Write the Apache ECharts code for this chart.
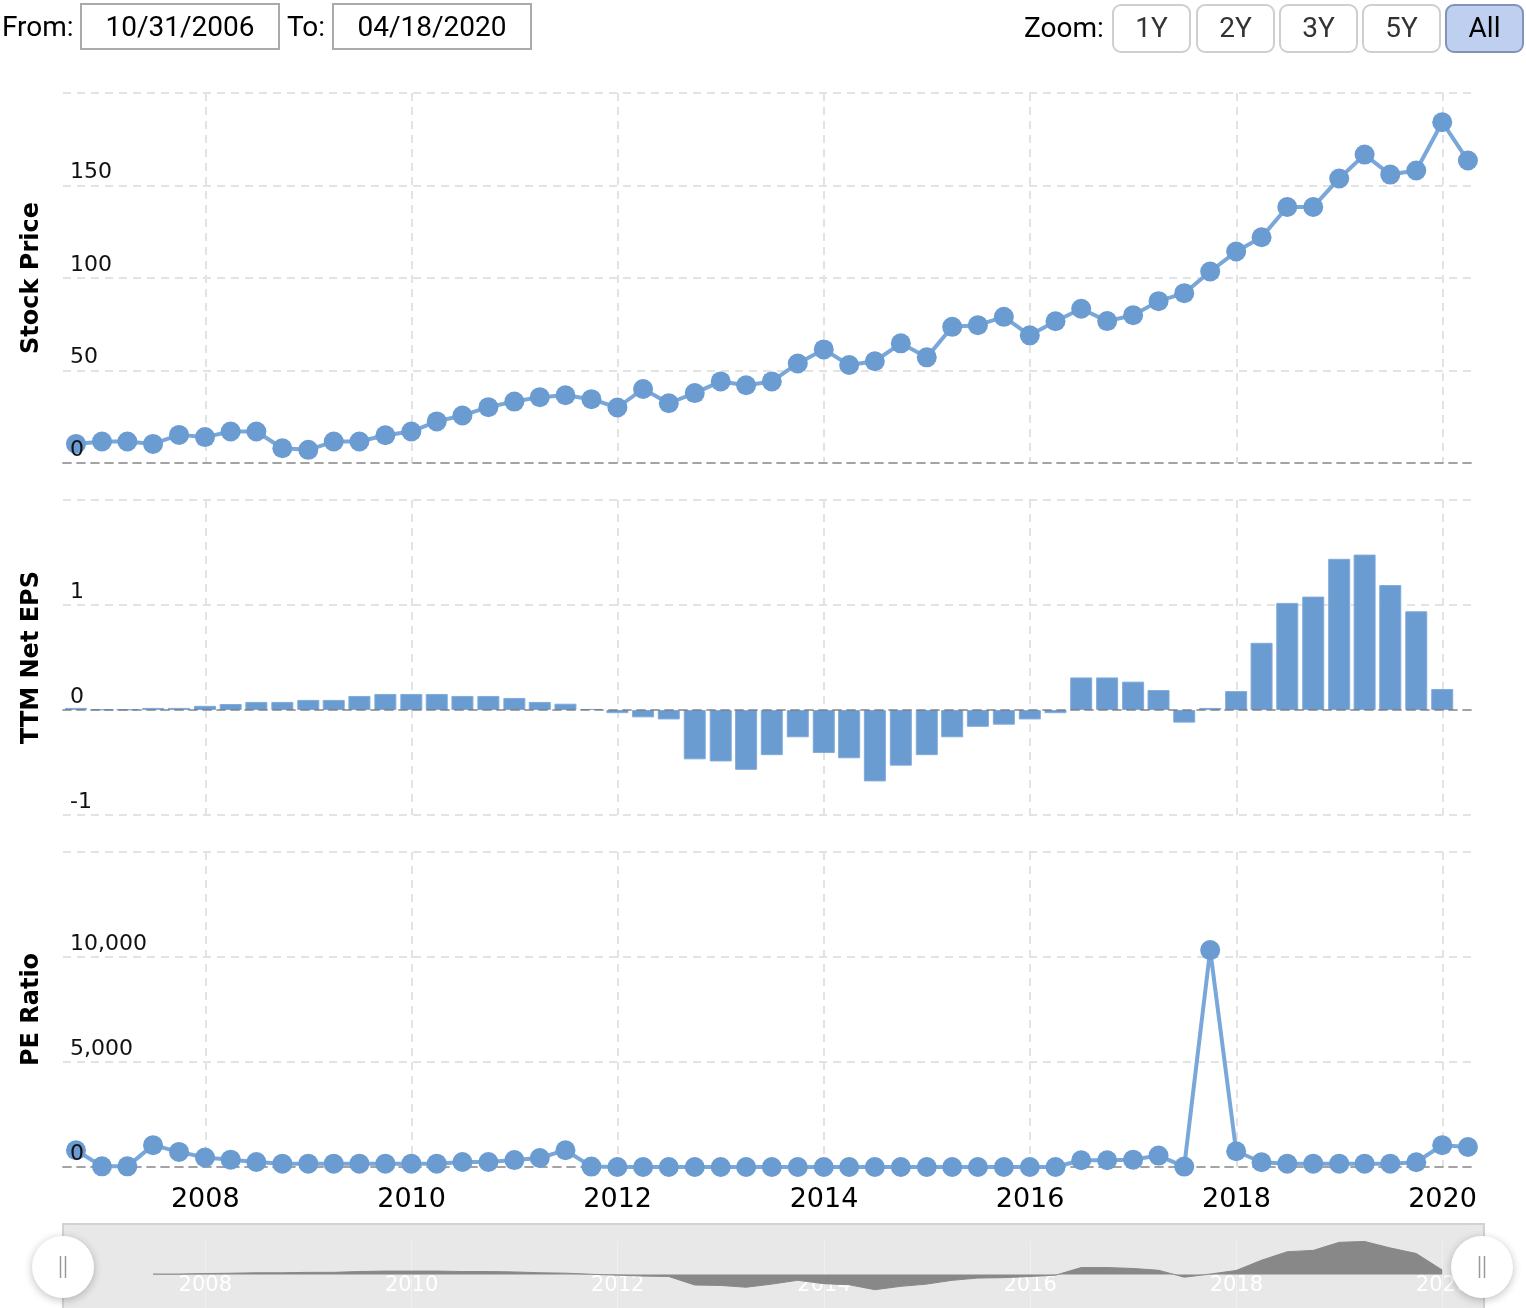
<!DOCTYPE html>
<html>
<head>
<meta charset="utf-8">
<script src="https://cdn.jsdelivr.net/npm/echarts@6/dist/echarts.min.js"></script>
<style>
html,body{margin:0;padding:0;background:#fff;}
#chart{width:1526px;height:1308px;}
</style>
</head>
<body>
<div id="chart"></div>
<script>
// ---------- data ----------
const quarterDates = [
  '2006-09-30','2006-12-31',
  '2007-03-31','2007-06-30','2007-09-30','2007-12-31',
  '2008-03-31','2008-06-30','2008-09-30','2008-12-31',
  '2009-03-31','2009-06-30','2009-09-30','2009-12-31',
  '2010-03-31','2010-06-30','2010-09-30','2010-12-31',
  '2011-03-31','2011-06-30','2011-09-30','2011-12-31',
  '2012-03-31','2012-06-30','2012-09-30','2012-12-31',
  '2013-03-31','2013-06-30','2013-09-30','2013-12-31',
  '2014-03-31','2014-06-30','2014-09-30','2014-12-31',
  '2015-03-31','2015-06-30','2015-09-30','2015-12-31',
  '2016-03-31','2016-06-30','2016-09-30','2016-12-31',
  '2017-03-31','2017-06-30','2017-09-30','2017-12-31',
  '2018-03-31','2018-06-30','2018-09-30','2018-12-31',
  '2019-03-31','2019-06-30','2019-09-30','2019-12-31',
  '2020-03-31'
];
const stockPrice = [
  10.3, 11.6, 11.6, 10.3, 15.2, 14.0, 17.0, 17.0, 8.0, 7.1,
  11.6, 11.6, 15.0, 17.0, 22.5, 25.7, 30.2, 33.2, 35.6, 36.6,
  34.5, 30.0, 40.0, 32.3, 37.8, 44.1, 42.0, 44.1, 53.8, 61.4,
  53.0, 55.0, 64.7, 57.1, 73.6, 74.5, 79.0, 69.0, 76.6, 83.4,
  76.7, 79.9, 87.5, 91.8, 103.5, 114.3, 122.0, 138.4, 138.4, 153.8,
  166.7, 155.9, 158.1, 184.2, 163.5
];
const ttmEps = [
  0.02, 0.005, 0.005, 0.02, 0.02, 0.04, 0.057, 0.077, 0.077, 0.096,
  0.096, 0.134, 0.153, 0.153, 0.153, 0.134, 0.134, 0.115, 0.077, 0.06,
  0.01, -0.03, -0.07, -0.09, -0.47, -0.49, -0.57, -0.43, -0.26, -0.41,
  -0.46, -0.68, -0.53, -0.43, -0.26, -0.16, -0.14, -0.09, -0.03, 0.31,
  0.31, 0.27, 0.19, -0.12, 0.02, 0.18, 0.64, 1.02, 1.08, 1.44,
  1.48, 1.19, 0.94, 0.20
];
const peRatio = [
  800, 30, 30, 1040, 720, 450, 350, 240, 160, 160,
  160, 160, 160, 160, 160, 240, 240, 330, 430, 800,
  20, 0, 0, 0, 0, 0, 0, 0, 0, 0,
  0, 0, 0, 0, 0, 0, 0, 0, 0, 320,
  320, 350, 545, 20, 10330, 750, 225, 160, 160, 160,
  160, 160, 225, 1040, 950
];
const navigatorStart = 3; // navigator series begins at this quarter
const fromDate = '10/31/2006';
const toDate = '04/18/2020';
const zoomButtons = ['1Y', '2Y', '3Y', '5Y', 'All'];
const activeZoom = 'All';
const axisMinDate = '2006-08-15';
const axisMaxDate = '2020-04-18';

// ---------- styling ----------
const DOT = '#6a9bd1';
const LINE = '#79a7da';
const GRID_C = '#e3e3e3';
const ZERO_C = 'rgba(100,100,100,0.5)';
const TWO_YEARS = 730 * 24 * 3600 * 1000;
const AXIS_FONT = 'DejaVu Sans';
const PLOT_W = 1526 - 63 - 53;
const BAR_W = 22;

// ECharts widens a time axis that carries bars by the bar width; pre-shrink so the final extent matches the others
const tMin = +new Date(axisMinDate + 'T00:00:00');
const tMax = +new Date(axisMaxDate + 'T00:00:00');
const shrink = (tMax - tMin) * (BAR_W / PLOT_W) / 2;

function xAxisFor(idx, extra) {
  return Object.assign({
    type: 'time', gridIndex: idx, position: 'bottom', min: tMin, max: tMax,
    minInterval: TWO_YEARS, maxInterval: TWO_YEARS, splitNumber: 7,
    axisTick: { show: false },
    axisLabel: { show: false },
    axisLine: { show: true, onZero: true, lineStyle: { color: ZERO_C, width: 2, type: [8, 6] } },
    splitLine: { show: true, showMinLine: false, showMaxLine: false, lineStyle: { color: GRID_C, width: 2, type: [8, 6] } }
  }, extra || {});
}
function yBase(idx, name, min, max, interval) {
  return {
    type: 'value', gridIndex: idx, position: 'left', min: min, max: max, interval: interval,
    name: name, nameLocation: 'middle', nameGap: 19, nameRotate: 90,
    nameTextStyle: { fontFamily: AXIS_FONT, fontWeight: 'bold', fontSize: 24, color: '#000' },
    axisLine: { show: false }, axisTick: { show: false }, axisLabel: { show: false },
    splitLine: { show: true, lineStyle: { color: GRID_C, width: 2, type: [8, 6] } }
  };
}
function yLabels(idx, min, max, interval, fmt) {
  return {
    type: 'value', gridIndex: idx, position: 'left', min: min, max: max, interval: interval, z: 10,
    axisLine: { show: false }, axisTick: { show: false }, splitLine: { show: false },
    axisLabel: {
      inside: true, margin: 7, color: '#111', fontFamily: AXIS_FONT, fontSize: 22,
      verticalAlign: 'bottom', padding: [0, 0, 2, 0], formatter: fmt
    }
  };
}

const pricePts = quarterDates.map((d, i) => [d, stockPrice[i]]);
const epsPts = ttmEps.map((v, i) => [quarterDates[i], v]);
const pePts = quarterDates.map((d, i) => [d, peRatio[i]]);
const navPts = epsPts.slice(navigatorStart);

// ---------- top controls (graphic) ----------
const ctrlFont = '28px Roboto';
function txt(t, x, y, align, fill) {
  return { type: 'text', z: 5, style: { text: t, x: x, y: y, font: ctrlFont, fill: fill || '#000',
    textAlign: align, textVerticalAlign: 'middle', align: align, verticalAlign: 'middle' } };
}
const graphics = [
  txt('From:', 2, 29, 'left'),
  { type: 'rect', shape: { x: 81, y: 4, width: 198, height: 45 }, style: { fill: '#fff', stroke: '#aaa', lineWidth: 2 } },
  txt(fromDate, 180, 29, 'center'),
  txt('To:', 287, 29, 'left'),
  { type: 'rect', shape: { x: 333, y: 4, width: 198, height: 45 }, style: { fill: '#fff', stroke: '#aaa', lineWidth: 2 } },
  txt(toDate, 432, 29, 'center'),
  txt('Zoom:', 1024, 30, 'left')
];
const btnX = [1113, 1197, 1280, 1363, 1446];
zoomButtons.forEach((b, i) => {
  const active = b === activeZoom;
  graphics.push({ type: 'rect', shape: { x: btnX[i], y: 5, width: 77, height: 47, r: 8 },
    style: { fill: active ? '#bfcff0' : '#fff', stroke: active ? '#8393b8' : '#cfcfcf', lineWidth: 2 } });
  graphics.push(txt(b, btnX[i] + 38.5, 30, 'center', active ? '#000' : '#333'));
});
// navigator frame + handles
graphics.push({ type: 'rect', z: 0, shape: { x: 63, y: 1224, width: 1421, height: 100 },
  style: { fill: '#e8e8e8', stroke: '#d2d2d2', lineWidth: 2 } });
[63, 1482].forEach(cx => {
  graphics.push({ type: 'circle', z: 100, shape: { cx: cx, cy: 1267, r: 31 },
    style: { fill: '#fff', shadowBlur: 8, shadowColor: 'rgba(0,0,0,0.25)', shadowOffsetY: 2 } });
  graphics.push({ type: 'line', z: 101, shape: { x1: cx - 2.5, y1: 1256, x2: cx - 2.5, y2: 1278 }, style: { stroke: '#999', lineWidth: 1.5 } });
  graphics.push({ type: 'line', z: 101, shape: { x1: cx + 2.5, y1: 1256, x2: cx + 2.5, y2: 1278 }, style: { stroke: '#999', lineWidth: 1.5 } });
});

// ---------- chart ----------
const chart = echarts.init(document.getElementById('chart'));
chart.setOption({
  animation: false,
  backgroundColor: '#fff',
  graphic: graphics,
  grid: [
    { left: 63, right: 53, top: 93, height: 370 },
    { left: 63, right: 53, top: 500, height: 315 },
    { left: 63, right: 53, top: 852, height: 315 },
    { left: 63, right: 53, top: 1241, height: 76 }
  ],
  xAxis: [
    xAxisFor(0),
    xAxisFor(1, { min: tMin + shrink, max: tMax - shrink, axisLine: { show: false } }),
    xAxisFor(2, { axisLabel: { show: true, showMinLabel: false, showMaxLabel: false, formatter: '{yyyy}', color: '#000', fontFamily: AXIS_FONT, fontSize: 27, margin: 19 } }),
    xAxisFor(3, {
      axisLine: { show: false, onZero: false },
      axisLabel: { show: true, inside: true, showMinLabel: false, showMaxLabel: false, formatter: '{yyyy}', color: '#fff', fontFamily: AXIS_FONT, fontSize: 21, margin: 12 },
      splitLine: { show: true, showMinLine: false, showMaxLine: false, lineStyle: { color: '#efefef', width: 1, type: 'solid' } }
    }),
    // zero line of the EPS panel, drawn above the bars
    xAxisFor(1, { z: 10, splitLine: { show: false } })
  ],
  yAxis: [
    yBase(0, 'Stock Price', 0, 200, 50),
    yBase(1, 'TTM Net EPS', -1, 2, 1),
    yBase(2, 'PE Ratio', 0, 15000, 5000),
    { type: 'value', gridIndex: 3, min: -1.5, max: 1.5, show: false },
    yLabels(0, 0, 200, 50, v => v === 200 ? '' : String(v)),
    yLabels(1, -1, 2, 1, v => v === 2 ? '' : String(v)),
    yLabels(2, 0, 15000, 5000, v => v === 15000 ? '' : v.toLocaleString('en-US'))
  ],
  series: [
    { type: 'line', name: 'Stock Price', xAxisIndex: 0, yAxisIndex: 0, data: pricePts,
      symbol: 'circle', symbolSize: 20, itemStyle: { color: DOT }, lineStyle: { color: LINE, width: 4 } },
    { type: 'bar', name: 'TTM Net EPS', xAxisIndex: 1, yAxisIndex: 1, data: epsPts, barWidth: BAR_W,
      itemStyle: { color: DOT, borderColor: '#80abdb', borderWidth: 1 } },
    { type: 'line', name: 'PE Ratio', xAxisIndex: 2, yAxisIndex: 2, data: pePts,
      symbol: 'circle', symbolSize: 20, itemStyle: { color: DOT }, lineStyle: { color: LINE, width: 4 } },
    { type: 'line', name: 'Navigator', xAxisIndex: 3, yAxisIndex: 3, data: navPts, showSymbol: false,
      lineStyle: { color: '#888', width: 1 }, areaStyle: { color: '#888', opacity: 1 } }
  ]
});
</script>
</body>
</html>
